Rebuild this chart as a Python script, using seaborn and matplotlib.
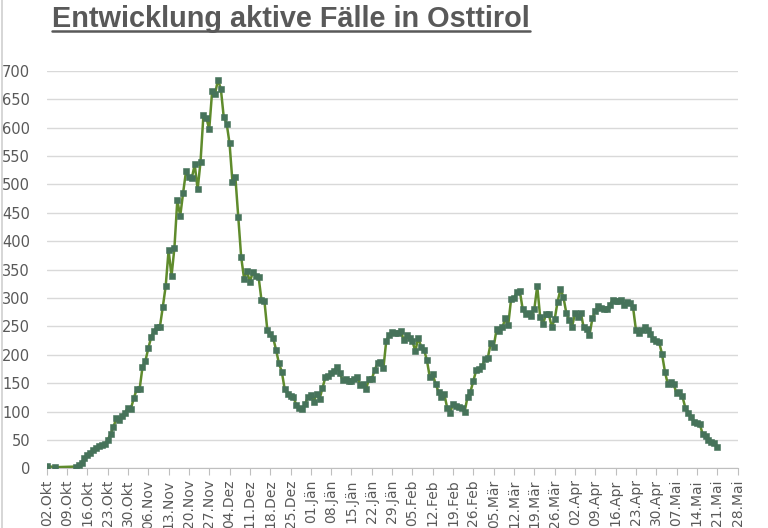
import numpy as np
import pandas as pd
import matplotlib.pyplot as plt
import matplotlib.lines as mlines
import seaborn as sns

# =========================
# Data
# =========================

early_dates = ["2020-10-02", "2020-10-05"]
early_cases = [4, 2]

daily_start = "2020-10-12"
daily_cases = [
    3, 5, 10, 18, 24, 27, 32, 36, 39, 41,
    43, 50, 60, 73, 88, 85, 92, 98, 107, 105,
    123, 139, 139, 178, 189, 211, 231, 242, 249, 249,
    284, 321, 384, 338, 388, 472, 444, 485, 523, 512,
    511, 535, 491, 540, 622, 617, 597, 664, 659, 684,
    668, 618, 607, 572, 504, 513, 442, 372, 334, 347,
    328, 345, 338, 337, 296, 295, 244, 236, 230, 209,
    185, 170, 139, 131, 127, 126, 111, 106, 105, 113,
    125, 129, 117, 131, 122, 141, 160, 163, 167, 172,
    178, 167, 155, 157, 153, 153, 157, 161, 147, 148,
    139, 157, 157, 173, 185, 188, 176, 225, 234, 240,
    239, 239, 241, 226, 234, 230, 224, 206, 230, 214,
    209, 190, 160, 166, 148, 135, 125, 130, 106, 98,
    114, 110, 108, 107, 100, 126, 135, 154, 173, 175,
    180, 192, 195, 221, 214, 245, 241, 248, 264, 252,
    298, 299, 311, 312, 280, 271, 274, 268, 280, 321,
    267, 254, 271, 271, 249, 262, 293, 315, 302, 274,
    261, 249, 273, 267, 274, 248, 246, 234, 264, 277,
    285, 282, 280, 280, 288, 296, 295, 295, 296, 287,
    292, 291, 284, 244, 238, 244, 248, 243, 237, 227,
    224, 222, 201, 170, 148, 152, 148, 132, 135, 127,
    107, 98, 90, 82, 79, 78, 60, 56, 49, 47,
    44, 38,
]

tick_start = "2020-10-02"
tick_end = "2021-05-28"
month_names = {10: "Okt", 11: "Nov", 12: "Dez", 1: "Jän", 2: "Feb",
               3: "Mär", 4: "Apr", 5: "Mai"}

title = "Entwicklung aktive Fälle in Osttirol"

# =========================
# Build table
# =========================

dates = list(pd.to_datetime(early_dates)) + list(pd.date_range(daily_start, periods=len(daily_cases)))
df = pd.DataFrame({"datum": dates, "faelle": early_cases + daily_cases})

# =========================
# Plot
# =========================

sns.set_theme(style="white")
plt.rcParams["font.family"] = ["DejaVu Sans"]

text_grey = "#595959"
line_color = "#5f8b2c"
marker_color = "#46735a"

fig = plt.figure(figsize=(7.68, 5.28), dpi=100)
ax = fig.add_axes([46.7 / 768, 59.7 / 528, 690.8 / 768, 397.6 / 528])

sns.lineplot(data=df, x="datum", y="faelle", ax=ax, estimator=None,
             color=line_color, linewidth=1.8, marker="s", markersize=4,
             markerfacecolor=marker_color, markeredgecolor=marker_color,
             markeredgewidth=0.4, zorder=3)

ax.set_xlim(pd.Timestamp(tick_start), pd.Timestamp(tick_end))
ax.set_ylim(0, 700)
ax.set_yticks(np.arange(0, 701, 50))
ax.yaxis.grid(True, color="#d9d9d9", linewidth=1.0)
ax.xaxis.grid(False)

ticks = pd.date_range(tick_start, tick_end, freq="7D")
ax.set_xticks(ticks)
ax.set_xticklabels([f"{d.day:02d}.{month_names[d.month]}" for d in ticks],
                   rotation=90, fontsize=10, color=text_grey)
ax.tick_params(axis="x", bottom=True, length=5, width=0.8, color="#bfbfbf", pad=3)
ax.tick_params(axis="y", left=False, length=0, pad=12, labelsize=10.5, labelcolor=text_grey)

for side in ["top", "right", "left"]:
    ax.spines[side].set_visible(False)
ax.spines["bottom"].set_color("#bfbfbf")
ax.spines["bottom"].set_linewidth(0.8)

ax.set_xlabel("")
ax.set_ylabel("")

# title with underline
t = fig.text(52 / 768, 1 - 5 / 528, title, ha="left", va="top",
             fontsize=20.8, fontweight="bold", color=text_grey,
             family=["Liberation Sans", "DejaVu Sans"])
fig.canvas.draw()
bb = t.get_window_extent().transformed(fig.transFigure.inverted())
fig.add_artist(mlines.Line2D([bb.x0, bb.x1], [1 - 31 / 528, 1 - 31 / 528],
                             color=text_grey, linewidth=1.8, transform=fig.transFigure))

# thin frame line on the left edge
fig.add_artist(mlines.Line2D([1.5 / 768, 1.5 / 768], [0, 1], color="#cfcfcf",
                             linewidth=1.2, transform=fig.transFigure))

fig.savefig("out.png", dpi=100)
